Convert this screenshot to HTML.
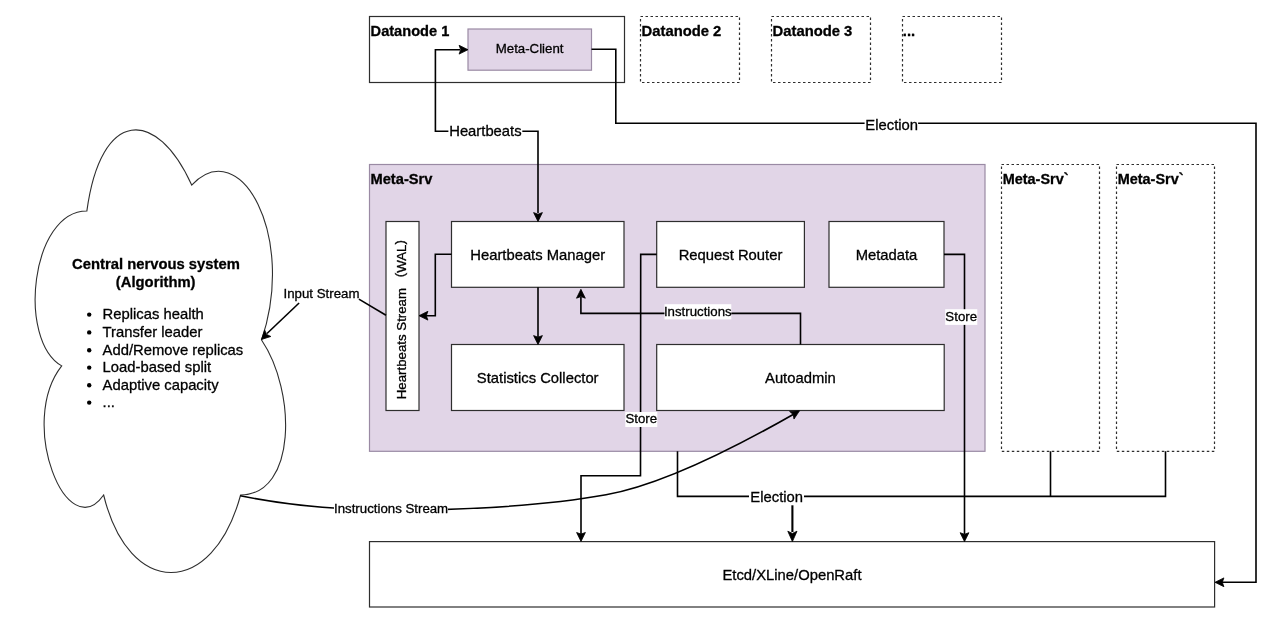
<!DOCTYPE html>
<html><head><meta charset="utf-8"><style>
html,body{margin:0;padding:0;background:#fff;}
svg{display:block;font-family:"Liberation Sans", sans-serif;will-change:transform;}
text{fill:#000;stroke:#000;stroke-width:0.3px;}
</style></head><body>
<svg width="1280" height="624" viewBox="0 0 1280 624">
<rect width="1280" height="624" fill="#fff"/>
<path d="M86.88,210.93 C30.98,210.93 17.00,340.05 61.72,365.88 C17.00,422.69 67.31,546.65 103.64,495.00 C128.80,598.30 212.65,598.30 240.60,495.00 C296.50,495.00 296.50,391.70 261.56,340.05 C296.50,236.75 240.60,133.45 191.69,185.10 C156.75,107.62 100.85,107.62 86.88,210.93 Z" fill="#fff" stroke="#2e2e2e" stroke-width="1.1"/>
<rect x="369.5" y="16.5" width="255.00" height="66.00" fill="#fff" stroke="#2e2e2e" stroke-width="1.2"/>
<text x="370.6" y="36" font-size="14.6" font-weight="bold" text-anchor="start">Datanode 1</text>
<rect x="468" y="29" width="123.50" height="41.20" fill="#e1d5e7" stroke="#9a8aa4" stroke-width="1.2"/>
<text x="529.6" y="52.9" font-size="13.25" text-anchor="middle">Meta-Client</text>
<rect x="640.5" y="16.5" width="99.00" height="66.00" fill="#fff" stroke="#2e2e2e" stroke-width="1.2" stroke-dasharray="2.5 2.5"/>
<rect x="771.5" y="16.5" width="99.00" height="66.00" fill="#fff" stroke="#2e2e2e" stroke-width="1.2" stroke-dasharray="2.5 2.5"/>
<rect x="902.5" y="16.5" width="99.00" height="66.00" fill="#fff" stroke="#2e2e2e" stroke-width="1.2" stroke-dasharray="2.5 2.5"/>
<text x="641.6" y="35.6" font-size="14.8" font-weight="bold" text-anchor="start">Datanode 2</text>
<text x="772.6" y="35.6" font-size="14.8" font-weight="bold" text-anchor="start">Datanode 3</text>
<text x="902.8" y="35.6" font-size="14.8" font-weight="bold" text-anchor="start">...</text>
<rect x="369.5" y="164.5" width="615.50" height="286.80" fill="#e1d5e7" stroke="#9a8aa4" stroke-width="1.2"/>
<text x="370.5" y="183.6" font-size="14.67" font-weight="bold" text-anchor="start">Meta-Srv</text>
<rect x="1001.5" y="164.5" width="98.00" height="286.80" fill="#fff" stroke="#2e2e2e" stroke-width="1.2" stroke-dasharray="2.5 2.5"/>
<text x="1002.7" y="183.7" font-size="14.45" font-weight="bold" text-anchor="start">Meta-Srv`</text>
<rect x="1116.5" y="164.5" width="98.00" height="286.80" fill="#fff" stroke="#2e2e2e" stroke-width="1.2" stroke-dasharray="2.5 2.5"/>
<text x="1117.7" y="183.7" font-size="14.45" font-weight="bold" text-anchor="start">Meta-Srv`</text>
<rect x="386" y="221.5" width="33.00" height="189.00" fill="#fff" stroke="#2e2e2e" stroke-width="1.2"/>
<rect x="451.5" y="221.5" width="172.50" height="65.80" fill="#fff" stroke="#2e2e2e" stroke-width="1.2"/>
<text x="537.7" y="259.8" font-size="14.8" text-anchor="middle">Heartbeats Manager</text>
<rect x="656.7" y="221.5" width="147.70" height="65.80" fill="#fff" stroke="#2e2e2e" stroke-width="1.2"/>
<text x="730.5" y="259.8" font-size="14.8" text-anchor="middle">Request Router</text>
<rect x="829" y="221.5" width="115.00" height="65.80" fill="#fff" stroke="#2e2e2e" stroke-width="1.2"/>
<text x="886.5" y="259.8" font-size="14.8" text-anchor="middle">Metadata</text>
<rect x="451.5" y="344.5" width="172.50" height="66.00" fill="#fff" stroke="#2e2e2e" stroke-width="1.2"/>
<text x="537.7" y="383" font-size="14.8" text-anchor="middle">Statistics Collector</text>
<rect x="656.7" y="344.5" width="287.50" height="66.00" fill="#fff" stroke="#2e2e2e" stroke-width="1.2"/>
<text x="800.4" y="383" font-size="14.8" text-anchor="middle">Autoadmin</text>
<text x="0" y="0" font-size="13.25" text-anchor="start" transform="translate(406,399.2) rotate(-90)">Heartbeats Stream</text>
<text x="0" y="0" font-size="13.25" text-anchor="end" transform="translate(406,240.1) rotate(-90)"><tspan dy="-1.6">(</tspan><tspan dy="1.6">WAL</tspan><tspan dy="-1.6">)</tspan></text>
<rect x="369.5" y="541.6" width="845.10" height="65.40" fill="#fff" stroke="#2e2e2e" stroke-width="1.2"/>
<text x="792" y="579.6" font-size="14.8" text-anchor="middle">Etcd/XLine/OpenRaft</text>
<polyline points="460,49.7 435.4,49.7 435.4,131.2 538,131.2 538,213" fill="none" stroke="#000" stroke-width="1.6" stroke-linejoin="miter"/>
<path d="M468.00,49.70 L459.10,54.10 L460.70,49.70 L459.10,45.30 Z" fill="#000" stroke="#000" stroke-width="0.8" stroke-linejoin="miter"/>
<path d="M538.00,221.50 L533.60,212.60 L538.00,214.20 L542.40,212.60 Z" fill="#000" stroke="#000" stroke-width="0.8" stroke-linejoin="miter"/>
<rect x="448.4" y="124" width="73.89999999999998" height="15" fill="#fff"/>
<text x="485.4" y="135.6" font-size="14.8" text-anchor="middle">Heartbeats</text>
<polyline points="591.5,49.2 615.8,49.2 615.8,123.2 1256,123.2 1256,582.3 1222,582.3" fill="none" stroke="#000" stroke-width="1.6" stroke-linejoin="miter"/>
<path d="M1215.00,582.30 L1223.90,577.90 L1222.30,582.30 L1223.90,586.70 Z" fill="#000" stroke="#000" stroke-width="0.8" stroke-linejoin="miter"/>
<rect x="864.6" y="115" width="53.5" height="17" fill="#fff"/>
<text x="891.7" y="129.5" font-size="14.8" text-anchor="middle">Election</text>
<polyline points="451.5,254.2 435.3,254.2 435.3,315.7 426,315.7" fill="none" stroke="#000" stroke-width="1.6" stroke-linejoin="miter"/>
<path d="M419.00,315.70 L427.90,311.30 L426.30,315.70 L427.90,320.10 Z" fill="#000" stroke="#000" stroke-width="0.8" stroke-linejoin="miter"/>
<polyline points="538,287.3 538,337" fill="none" stroke="#000" stroke-width="1.6" stroke-linejoin="miter"/>
<path d="M538.00,344.50 L533.60,335.60 L538.00,337.20 L542.40,335.60 Z" fill="#000" stroke="#000" stroke-width="0.8" stroke-linejoin="miter"/>
<polyline points="800.5,344.5 800.5,313.4 580.9,313.4 580.9,297" fill="none" stroke="#000" stroke-width="1.6" stroke-linejoin="miter"/>
<path d="M580.90,289.30 L585.30,298.20 L580.90,296.60 L576.50,298.20 Z" fill="#000" stroke="#000" stroke-width="0.8" stroke-linejoin="miter"/>
<rect x="664.5" y="304.2" width="66.79999999999995" height="15.199999999999989" fill="#fff"/>
<text x="697.8" y="315.5" font-size="13.25" text-anchor="middle">Instructions</text>
<polyline points="656.7,254.4 640.7,254.4 640.5,475.8 581.0,475.8 581.0,534" fill="none" stroke="#000" stroke-width="1.6" stroke-linejoin="miter"/>
<path d="M581.00,541.40 L576.60,532.50 L581.00,534.10 L585.40,532.50 Z" fill="#000" stroke="#000" stroke-width="0.8" stroke-linejoin="miter"/>
<rect x="625.3" y="412" width="32.0" height="15" fill="#fff"/>
<text x="641.3" y="422.8" font-size="13.25" text-anchor="middle">Store</text>
<polyline points="944,254.4 964.5,254.4 964.5,534" fill="none" stroke="#000" stroke-width="1.6" stroke-linejoin="miter"/>
<path d="M964.50,541.60 L960.10,532.70 L964.50,534.30 L968.90,532.70 Z" fill="#000" stroke="#000" stroke-width="0.8" stroke-linejoin="miter"/>
<rect x="945.2" y="309.2" width="32.09999999999991" height="15.699999999999989" fill="#fff"/>
<text x="961.2" y="320.6" font-size="13.25" text-anchor="middle">Store</text>
<polyline points="677.5,451.3 677.5,496.4 1165.5,496.4 1165.5,451.3" fill="none" stroke="#000" stroke-width="1.6" stroke-linejoin="miter"/>
<polyline points="1050.5,451.3 1050.5,496.4" fill="none" stroke="#000" stroke-width="1.6" stroke-linejoin="miter"/>
<rect x="749" y="486" width="55" height="19" fill="#fff"/>
<text x="776.7" y="501.7" font-size="14.8" text-anchor="middle">Election</text>
<polyline points="792.4,505.3 792.4,532" fill="none" stroke="#000" stroke-width="2.1" stroke-linejoin="miter"/>
<path d="M792.40,541.60 L787.80,531.20 L792.40,533.40 L797.00,531.20 Z" fill="#000" stroke="#000" stroke-width="0.8" stroke-linejoin="miter"/>
<polyline points="386,315.3 358.9,299.1" fill="none" stroke="#000" stroke-width="1.6" stroke-linejoin="miter"/>
<polyline points="299.1,303 267,333.5" fill="none" stroke="#000" stroke-width="1.6" stroke-linejoin="miter"/>
<path d="M261.40,339.50 L264.73,330.15 L266.64,334.42 L270.85,336.47 Z" fill="#000" stroke="#000" stroke-width="0.8" stroke-linejoin="miter"/>
<text x="321.5" y="298" font-size="13.25" text-anchor="middle">Input Stream</text>
<path d="M240.20,495.70 Q319.78,512.45 428.19,509.91 Q536.59,507.36 606.05,494.83 Q673.84,482.60 793.58,414.20" fill="none" stroke="#000" stroke-width="1.6"/>
<path d="M799.50,410.80 L793.99,419.06 L793.18,414.45 L789.59,411.43 Z" fill="#000" stroke="#000" stroke-width="0.8" stroke-linejoin="miter"/>
<rect x="334" y="500" width="114" height="17" fill="#fff"/>
<text x="391.1" y="513.1" font-size="13.25" text-anchor="middle">Instructions Stream</text>
<text x="156" y="268.9" font-size="14.8" font-weight="bold" text-anchor="middle">Central nervous system</text>
<text x="155.7" y="286.9" font-size="14.8" font-weight="bold" text-anchor="middle">(Algorithm)</text>
<text x="102.6" y="318.9" font-size="14.8" text-anchor="start">Replicas health</text>
<circle cx="89.2" cy="314.60" r="2.2" fill="#000"/>
<text x="102.6" y="336.7" font-size="14.8" text-anchor="start">Transfer leader</text>
<circle cx="89.2" cy="332.40" r="2.2" fill="#000"/>
<text x="102.6" y="354.5" font-size="14.8" text-anchor="start">Add/Remove replicas</text>
<circle cx="89.2" cy="350.20" r="2.2" fill="#000"/>
<text x="102.6" y="371.9" font-size="14.8" text-anchor="start">Load-based split</text>
<circle cx="89.2" cy="367.60" r="2.2" fill="#000"/>
<text x="102.6" y="389.5" font-size="14.8" text-anchor="start">Adaptive capacity</text>
<circle cx="89.2" cy="385.20" r="2.2" fill="#000"/>
<text x="102.6" y="406.9" font-size="14.8" text-anchor="start">...</text>
<circle cx="89.2" cy="402.60" r="2.2" fill="#000"/>
</svg></body></html>
